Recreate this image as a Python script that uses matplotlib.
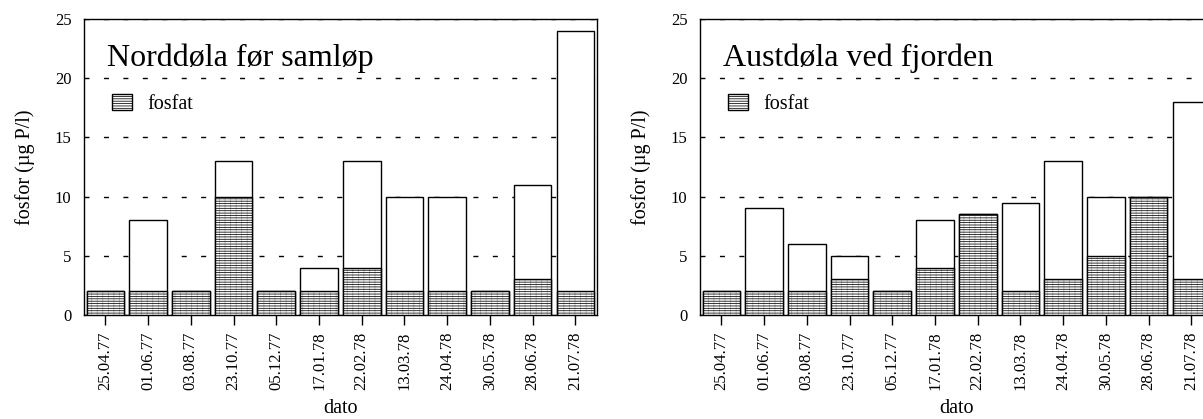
# Totalfosfor og fosfat, Norddøla og Austdøla 1977-78
import matplotlib.pyplot as plt
from matplotlib.patches import Patch

plt.rcParams['font.family'] = ['Liberation Serif', 'DejaVu Serif']
plt.rcParams['hatch.linewidth'] = 0.55

dato = ['25.04.77', '01.06.77', '03.08.77', '23.10.77', '05.12.77', '17.01.78',
        '22.02.78', '13.03.78', '24.04.78', '30.05.78', '28.06.78', '21.07.78']

# Norddøla før samløp
nord_total = [2, 8, 2, 13, 2, 4, 13, 10, 10, 2, 11, 24]
nord_fosfat = [2, 2, 2, 10, 2, 2, 4, 2, 2, 2, 3, 2]

# Austdøla ved fjorden
aust_total = [2, 9, 6, 5, 2, 8, 8.5, 9.5, 13, 10, 10, 18]
aust_fosfat = [2, 2, 2, 3, 2, 4, 8.5, 2, 3, 5, 10, 3]

fig = plt.figure(figsize=(12.03, 4.19), dpi=100)

ax_h = 296 / 419
ax_b = (419 - 315) / 419
ax_w = 512.7 / 1203
ax1 = fig.add_axes([84 / 1203, ax_b, ax_w, ax_h])
ax2 = fig.add_axes([700 / 1203, ax_b, ax_w, ax_h])

x = range(len(dato))
w = 0.88


def panel(ax, total, fosfat, tittel):
    ax.set_axisbelow(True)
    ax.yaxis.grid(True, color='black', linewidth=1.0, linestyle=(0, (3.6, 10.4)))
    ax.bar(x, total, width=w, color='white', edgecolor='black', linewidth=1.0, zorder=2)
    ax.bar(x, fosfat, width=w, color='white', edgecolor='#b8b8b8', hatch='|||',
           linewidth=0, zorder=3)
    ax.bar(x, fosfat, width=w, color='none', edgecolor='black', hatch='-------',
           linewidth=1.0, zorder=4)
    ax.set_xlim(-0.5, len(dato) - 0.5)
    ax.set_ylim(0, 25)
    ax.set_yticks([0, 5, 10, 15, 20, 25])
    ax.set_xticks(list(x))
    ax.set_xticklabels(dato, rotation=90)
    ax.tick_params(axis='y', length=0, pad=9, labelsize=12)
    ax.tick_params(axis='x', length=7, width=1.0, pad=5, labelsize=12)
    for s in ax.spines.values():
        s.set_linewidth(1.0)
    ax.set_ylabel('fosfor (µg P/l)', fontsize=14.5, labelpad=14)
    ax.set_xlabel('dato', fontsize=14.5, labelpad=6)
    ax.text(0.045, 0.842, tittel, transform=ax.transAxes, fontsize=23,
            va='baseline', ha='left')
    leg_patch = Patch(facecolor='white', edgecolor='black', hatch='-------', linewidth=1.0)
    ax.legend(handles=[leg_patch], labels=['fosfat'], loc='upper left',
              bbox_to_anchor=(0.0546, 0.748), frameon=False, fontsize=14.5,
              handlelength=1.0, handleheight=0.9, handletextpad=0.75,
              borderaxespad=0, borderpad=0)


panel(ax1, nord_total, nord_fosfat, 'Norddøla før samløp')
panel(ax2, aust_total, aust_fosfat, 'Austdøla ved fjorden')

fig.savefig('out.png', dpi=100)
